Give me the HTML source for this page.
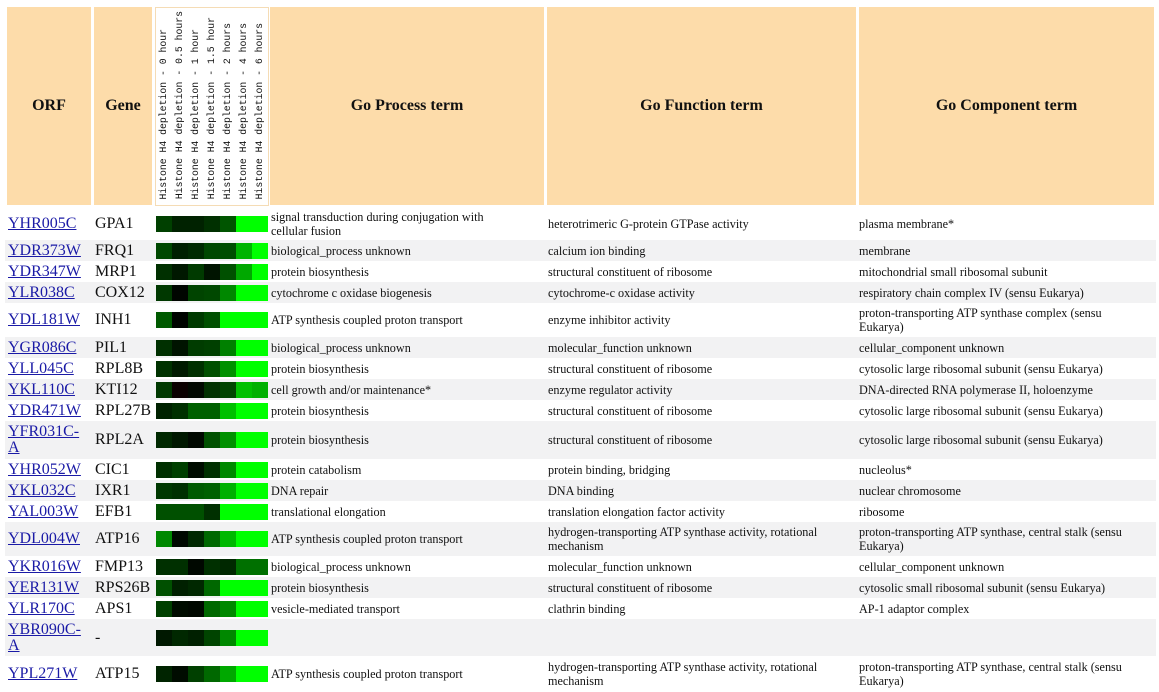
<!DOCTYPE html>
<html><head><meta charset="utf-8"><style>
body{margin:0;width:1159px;height:690px;background:#fff;position:relative;overflow:hidden;font-family:"Liberation Serif",serif;color:#111}
.h{position:absolute;top:7px;height:198px;background:#fddcaa;display:flex;align-items:center;justify-content:center;font-weight:bold;font-size:16px}
.hm{position:absolute;top:7px;left:155px;width:112px;height:197px;background:#fff;border:1px solid #f5dcb5}
.vt{position:absolute;bottom:6px;width:14px;font-family:"Liberation Mono",monospace;font-size:9.8px;writing-mode:vertical-rl;transform:rotate(180deg);white-space:nowrap;line-height:14px}
.r{position:absolute;left:5px;width:1151px}
.g{background:#f2f2f3}
.c{position:absolute;top:0;bottom:0;display:flex;align-items:center;line-height:14px}
.o{left:3px;width:76px;font-size:16px;line-height:16px}
.o span{color:#1a1aa6;text-decoration:underline}
.n{left:90px;font-size:16px}
.p{left:266px;width:250px;font-size:12.2px}
.f{left:543px;width:308px;font-size:12.2px}
.m{left:854px;width:290px;font-size:12.2px}
.hc{position:absolute;left:151px;top:50%;margin-top:-8px;height:16px;display:flex}
.hc i{display:block;width:16px;height:16px}
</style></head><body>
<div class="h" style="left:7px;width:84px">ORF</div>
<div class="h" style="left:94px;width:58px">Gene</div>
<div class="hm">
<div class="vt" style="left:1px">Histone H4 depletion - 0 hour</div>
<div class="vt" style="left:17px">Histone H4 depletion - 0.5 hours</div>
<div class="vt" style="left:33px">Histone H4 depletion - 1 hour</div>
<div class="vt" style="left:49px">Histone H4 depletion - 1.5 hour</div>
<div class="vt" style="left:65px">Histone H4 depletion - 2 hours</div>
<div class="vt" style="left:81px">Histone H4 depletion - 4 hours</div>
<div class="vt" style="left:97px">Histone H4 depletion - 6 hours</div>
</div>
<div class="h" style="left:270px;width:274px">Go Process term</div>
<div class="h" style="left:547px;width:309px">Go Function term</div>
<div class="h" style="left:859px;width:295px">Go Component term</div>

<div class="r" style="top:207px;height:33px"><div class="c o"><span>YHR005C</span></div><div class="c n">GPA1</div><div class="hc"><i style="background:#004000"></i><i style="background:#002200"></i><i style="background:#002200"></i><i style="background:#003000"></i><i style="background:#005500"></i><i style="background:#00ff00"></i><i style="background:#00ff00"></i></div><div class="c p">signal transduction during conjugation with cellular fusion</div><div class="c f">heterotrimeric G-protein GTPase activity</div><div class="c m">plasma membrane*</div></div>

<div class="r g" style="top:240px;height:21px"><div class="c o"><span>YDR373W</span></div><div class="c n">FRQ1</div><div class="hc"><i style="background:#004800"></i><i style="background:#002000"></i><i style="background:#002a00"></i><i style="background:#004800"></i><i style="background:#004d00"></i><i style="background:#00b400"></i><i style="background:#00ff00"></i></div><div class="c p">biological_process unknown</div><div class="c f">calcium ion binding</div><div class="c m">membrane</div></div>

<div class="r" style="top:261px;height:21px"><div class="c o"><span>YDR347W</span></div><div class="c n">MRP1</div><div class="hc"><i style="background:#003000"></i><i style="background:#001800"></i><i style="background:#003a00"></i><i style="background:#001400"></i><i style="background:#005000"></i><i style="background:#00a800"></i><i style="background:#00ff00"></i></div><div class="c p">protein biosynthesis</div><div class="c f">structural constituent of ribosome</div><div class="c m">mitochondrial small ribosomal subunit</div></div>

<div class="r g" style="top:282px;height:21px"><div class="c o"><span>YLR038C</span></div><div class="c n">COX12</div><div class="hc"><i style="background:#003800"></i><i style="background:#000500"></i><i style="background:#004400"></i><i style="background:#004800"></i><i style="background:#008800"></i><i style="background:#00ff00"></i><i style="background:#00ff00"></i></div><div class="c p">cytochrome c oxidase biogenesis</div><div class="c f">cytochrome-c oxidase activity</div><div class="c m">respiratory chain complex IV (sensu Eukarya)</div></div>

<div class="r" style="top:303px;height:34px"><div class="c o"><span>YDL181W</span></div><div class="c n">INH1</div><div class="hc"><i style="background:#005a00"></i><i style="background:#000400"></i><i style="background:#003a00"></i><i style="background:#005000"></i><i style="background:#00ff00"></i><i style="background:#00ff00"></i><i style="background:#00ff00"></i></div><div class="c p">ATP synthesis coupled proton transport</div><div class="c f">enzyme inhibitor activity</div><div class="c m">proton-transporting ATP synthase complex (sensu Eukarya)</div></div>

<div class="r g" style="top:337px;height:21px"><div class="c o"><span>YGR086C</span></div><div class="c n">PIL1</div><div class="hc"><i style="background:#003000"></i><i style="background:#001400"></i><i style="background:#003c00"></i><i style="background:#004000"></i><i style="background:#008000"></i><i style="background:#00ff00"></i><i style="background:#00ff00"></i></div><div class="c p">biological_process unknown</div><div class="c f">molecular_function unknown</div><div class="c m">cellular_component unknown</div></div>

<div class="r" style="top:358px;height:21px"><div class="c o"><span>YLL045C</span></div><div class="c n">RPL8B</div><div class="hc"><i style="background:#003200"></i><i style="background:#001a00"></i><i style="background:#003000"></i><i style="background:#005000"></i><i style="background:#009000"></i><i style="background:#00ff00"></i><i style="background:#00ff00"></i></div><div class="c p">protein biosynthesis</div><div class="c f">structural constituent of ribosome</div><div class="c m">cytosolic large ribosomal subunit (sensu Eukarya)</div></div>

<div class="r g" style="top:379px;height:21px"><div class="c o"><span>YKL110C</span></div><div class="c n">KTI12</div><div class="hc"><i style="background:#003800"></i><i style="background:#0a0000"></i><i style="background:#000800"></i><i style="background:#003000"></i><i style="background:#004400"></i><i style="background:#00c000"></i><i style="background:#00b000"></i></div><div class="c p">cell growth and/or maintenance*</div><div class="c f">enzyme regulator activity</div><div class="c m">DNA-directed RNA polymerase II, holoenzyme</div></div>

<div class="r" style="top:400px;height:21px"><div class="c o"><span>YDR471W</span></div><div class="c n">RPL27B</div><div class="hc"><i style="background:#002200"></i><i style="background:#003000"></i><i style="background:#006000"></i><i style="background:#006000"></i><i style="background:#00c000"></i><i style="background:#00ff00"></i><i style="background:#00ff00"></i></div><div class="c p">protein biosynthesis</div><div class="c f">structural constituent of ribosome</div><div class="c m">cytosolic large ribosomal subunit (sensu Eukarya)</div></div>

<div class="r g" style="top:421px;height:38px"><div class="c o"><span>YFR031C-A</span></div><div class="c n">RPL2A</div><div class="hc"><i style="background:#002800"></i><i style="background:#001800"></i><i style="background:#000800"></i><i style="background:#005000"></i><i style="background:#009000"></i><i style="background:#00ff00"></i><i style="background:#00ff00"></i></div><div class="c p">protein biosynthesis</div><div class="c f">structural constituent of ribosome</div><div class="c m">cytosolic large ribosomal subunit (sensu Eukarya)</div></div>

<div class="r" style="top:459px;height:21px"><div class="c o"><span>YHR052W</span></div><div class="c n">CIC1</div><div class="hc"><i style="background:#003000"></i><i style="background:#004000"></i><i style="background:#000c00"></i><i style="background:#003000"></i><i style="background:#008800"></i><i style="background:#00ff00"></i><i style="background:#00ff00"></i></div><div class="c p">protein catabolism</div><div class="c f">protein binding, bridging</div><div class="c m">nucleolus*</div></div>

<div class="r g" style="top:480px;height:21px"><div class="c o"><span>YKL032C</span></div><div class="c n">IXR1</div><div class="hc"><i style="background:#003800"></i><i style="background:#003000"></i><i style="background:#005a00"></i><i style="background:#006000"></i><i style="background:#00b000"></i><i style="background:#00ff00"></i><i style="background:#00ff00"></i></div><div class="c p">DNA repair</div><div class="c f">DNA binding</div><div class="c m">nuclear chromosome</div></div>

<div class="r" style="top:501px;height:21px"><div class="c o"><span>YAL003W</span></div><div class="c n">EFB1</div><div class="hc"><i style="background:#005000"></i><i style="background:#005000"></i><i style="background:#005000"></i><i style="background:#003000"></i><i style="background:#00ff00"></i><i style="background:#00ff00"></i><i style="background:#00ff00"></i></div><div class="c p">translational elongation</div><div class="c f">translation elongation factor activity</div><div class="c m">ribosome</div></div>

<div class="r g" style="top:522px;height:34px"><div class="c o"><span>YDL004W</span></div><div class="c n">ATP16</div><div class="hc"><i style="background:#008800"></i><i style="background:#000800"></i><i style="background:#002800"></i><i style="background:#006800"></i><i style="background:#00b800"></i><i style="background:#00ff00"></i><i style="background:#00ff00"></i></div><div class="c p">ATP synthesis coupled proton transport</div><div class="c f">hydrogen-transporting ATP synthase activity, rotational mechanism</div><div class="c m">proton-transporting ATP synthase, central stalk (sensu Eukarya)</div></div>

<div class="r" style="top:556px;height:21px"><div class="c o"><span>YKR016W</span></div><div class="c n">FMP13</div><div class="hc"><i style="background:#003000"></i><i style="background:#003000"></i><i style="background:#000800"></i><i style="background:#003000"></i><i style="background:#002800"></i><i style="background:#007000"></i><i style="background:#007000"></i></div><div class="c p">biological_process unknown</div><div class="c f">molecular_function unknown</div><div class="c m">cellular_component unknown</div></div>

<div class="r g" style="top:577px;height:21px"><div class="c o"><span>YER131W</span></div><div class="c n">RPS26B</div><div class="hc"><i style="background:#005000"></i><i style="background:#002000"></i><i style="background:#002800"></i><i style="background:#006800"></i><i style="background:#00ff00"></i><i style="background:#00ff00"></i><i style="background:#00ff00"></i></div><div class="c p">protein biosynthesis</div><div class="c f">structural constituent of ribosome</div><div class="c m">cytosolic small ribosomal subunit (sensu Eukarya)</div></div>

<div class="r" style="top:598px;height:21px"><div class="c o"><span>YLR170C</span></div><div class="c n">APS1</div><div class="hc"><i style="background:#004000"></i><i style="background:#000c00"></i><i style="background:#000800"></i><i style="background:#006800"></i><i style="background:#008800"></i><i style="background:#00ff00"></i><i style="background:#00ff00"></i></div><div class="c p">vesicle-mediated transport</div><div class="c f">clathrin binding</div><div class="c m">AP-1 adaptor complex</div></div>

<div class="r g" style="top:619px;height:37px"><div class="c o"><span>YBR090C-A</span></div><div class="c n">-</div><div class="hc"><i style="background:#001800"></i><i style="background:#002800"></i><i style="background:#002000"></i><i style="background:#004400"></i><i style="background:#008800"></i><i style="background:#00ff00"></i><i style="background:#00ff00"></i></div><div class="c p"></div><div class="c f"></div><div class="c m"></div></div>

<div class="r" style="top:656px;height:36px"><div class="c o"><span>YPL271W</span></div><div class="c n">ATP15</div><div class="hc"><i style="background:#002400"></i><i style="background:#000c00"></i><i style="background:#004000"></i><i style="background:#006800"></i><i style="background:#00a800"></i><i style="background:#00ff00"></i><i style="background:#00ff00"></i></div><div class="c p">ATP synthesis coupled proton transport</div><div class="c f">hydrogen-transporting ATP synthase activity, rotational mechanism</div><div class="c m">proton-transporting ATP synthase, central stalk (sensu Eukarya)</div></div>
</body></html>
